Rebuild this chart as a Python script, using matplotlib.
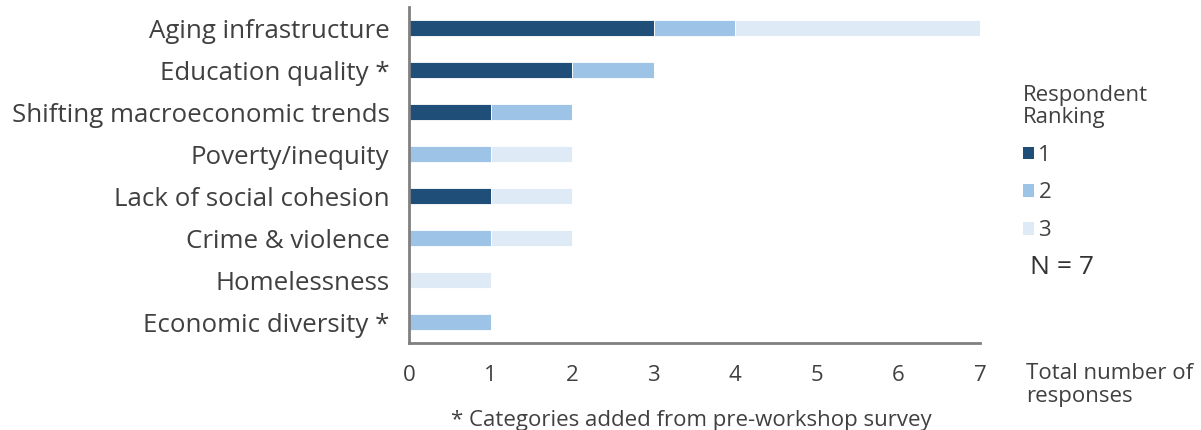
import matplotlib.pyplot as plt
import numpy as np
from matplotlib.patches import Patch

categories = ['Aging infrastructure', 'Education quality *', 'Shifting macroeconomic trends',
              'Poverty/inequity', 'Lack of social cohesion', 'Crime & violence',
              'Homelessness', 'Economic diversity *']
rank1 = [3, 2, 1, 0, 1, 0, 0, 0]
rank2 = [1, 1, 1, 1, 0, 1, 0, 1]
rank3 = [3, 0, 0, 1, 1, 1, 1, 0]
rank_labels = ['1', '2', '3']
colors = ['#1F4E79', '#9DC3E6', '#DEEBF7']
total_n = 7

plt.rcParams['font.family'] = ['Open Sans', 'DejaVu Sans']
text_color = '#404040'

fig = plt.figure(figsize=(12.01, 4.30), dpi=100)
ax = fig.add_axes([0.3405, 0.2023, 0.4755, 0.7814])

y = np.arange(len(categories))
left = np.zeros(len(categories))
for vals, c, lab in zip([rank1, rank2, rank3], colors, rank_labels):
    ax.barh(y, vals, left=left, height=0.4, color=c, edgecolor='white', linewidth=0.6, label=lab)
    left += np.array(vals)

ax.set_ylim(len(categories) - 0.5, -0.5)
ax.set_xlim(0, 7)
ax.set_yticks(y)
ax.set_yticklabels(categories, fontsize=18.6, color=text_color)
ax.set_xticks(range(0, 8))
ax.tick_params(axis='x', length=0, pad=16, labelsize=16, labelcolor=text_color)
ax.tick_params(axis='y', length=0, pad=14)

for s in ['top', 'right']:
    ax.spines[s].set_visible(False)
for s in ['left', 'bottom']:
    ax.spines[s].set_color('#808080')
    ax.spines[s].set_linewidth(2)

handles = [Patch(facecolor=c, label=l) for c, l in zip(colors, rank_labels)]
leg = fig.legend(handles=handles, title='Respondent\nRanking', loc='upper left',
                 bbox_to_anchor=(0.835, 0.848), frameon=False, fontsize=16,
                 title_fontsize=16, handlelength=0.5, handleheight=0.5,
                 handletextpad=0.2, labelspacing=0.75, alignment='left')
for t in leg.get_texts():
    t.set_color(text_color)
leg.get_title().set_color(text_color)
leg.get_title().set_linespacing(1.05)

fig.text(0.858, 0.378, 'N = %d' % total_n, fontsize=19, color='#333333', va='center')
fig.text(0.854, 0.105, 'Total number of\nresponses', fontsize=16, color=text_color,
         va='center', linespacing=1.1)
fig.text(0.576, 0.022, '* Categories added from pre-workshop survey', fontsize=16,
         color=text_color, ha='center', va='center')

fig.savefig('out.png', dpi=100)
